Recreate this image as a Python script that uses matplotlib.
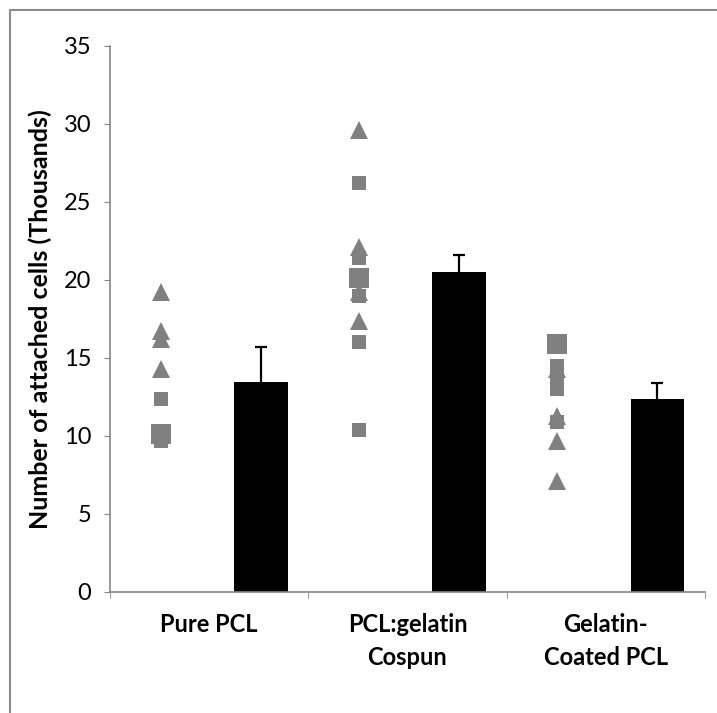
import matplotlib
matplotlib.use("Agg")
import matplotlib.pyplot as plt
from matplotlib.patches import Rectangle

plt.rcParams['font.family'] = ['Lato', 'DejaVu Sans']

categories = ["Pure PCL", "PCL:gelatin\nCospun", "Gelatin-\nCoated PCL"]
means = [13.45, 20.5, 12.35]
errors = [2.25, 1.1, 1.05]

# individual samples (thousands of cells), per category
triangles = [[19.2, 16.7, 16.2, 14.3],
             [29.6, 22.1, 19.2, 17.4],
             [14.3, 11.3, 9.7, 7.1]]
small_squares = [[12.4, 9.7],
                 [26.2, 21.4, 19.0, 16.0, 10.4],
                 [14.5, 13.75, 13.0, 10.9]]
big_squares = [[10.1],
               [20.1],
               [15.9]]

W, H = 717, 713
fig = plt.figure(figsize=(W / 100, H / 100), dpi=100)
ax = fig.add_axes([110 / W, (H - 592) / H, 595 / W, 546 / H])

# outer chart border
fig.patches.append(Rectangle((10 / W, -0.1), 1.2, 1.1 - 10 / H,
                             transform=fig.transFigure, fill=False,
                             edgecolor="#8c8c8c", lw=1.5))

pos = list(range(len(categories)))
bar_x = [p + 0.26 for p in pos]
ax.bar(bar_x, means, width=0.27, color="black", zorder=2)
eb = ax.errorbar(bar_x, means, yerr=[[0] * 3, errors],
                 fmt="none", ecolor="black", elinewidth=1.6, capsize=4.3,
                 capthick=1.6, zorder=3)
eb[1][0].set_visible(False)  # no cap on the bar top

gray = "#808080"
for i in pos:
    x = i - 0.245
    ax.plot([x] * len(big_squares[i]), big_squares[i], "s", ms=13.7,
            color=gray, mew=0, zorder=4)
    ax.plot([x] * len(small_squares[i]), small_squares[i], "s", ms=10,
            color=gray, mew=0, zorder=4)
    ax.plot([x] * len(triangles[i]), triangles[i], "^", ms=13.5,
            color=gray, mew=0, zorder=5)

ax.set_xlim(-0.5, 2.5)
ax.set_ylim(0, 35)
ax.set_yticks(range(0, 36, 5))
ax.set_xticks(pos)
ax.set_xticklabels(categories, fontweight="bold", fontsize=17,
                   linespacing=1.55)
ax.set_xticks([-0.5, 0.5, 1.5, 2.5], minor=True)
ax.tick_params(axis="x", which="major", length=0, pad=15)
ax.tick_params(axis="x", which="minor", length=4.5, direction="out",
               color="#868686")
ax.tick_params(axis="y", length=4.5, direction="out", color="#868686",
               labelsize=17, pad=9)

for s in ["top", "right"]:
    ax.spines[s].set_visible(False)
for s in ["left", "bottom"]:
    ax.spines[s].set_color("#868686")
    ax.spines[s].set_linewidth(1.2)

ax.set_ylabel("Number of attached cells (Thousands)", fontweight="bold",
              fontsize=18, labelpad=8)

fig.savefig("out.png", dpi=100)
